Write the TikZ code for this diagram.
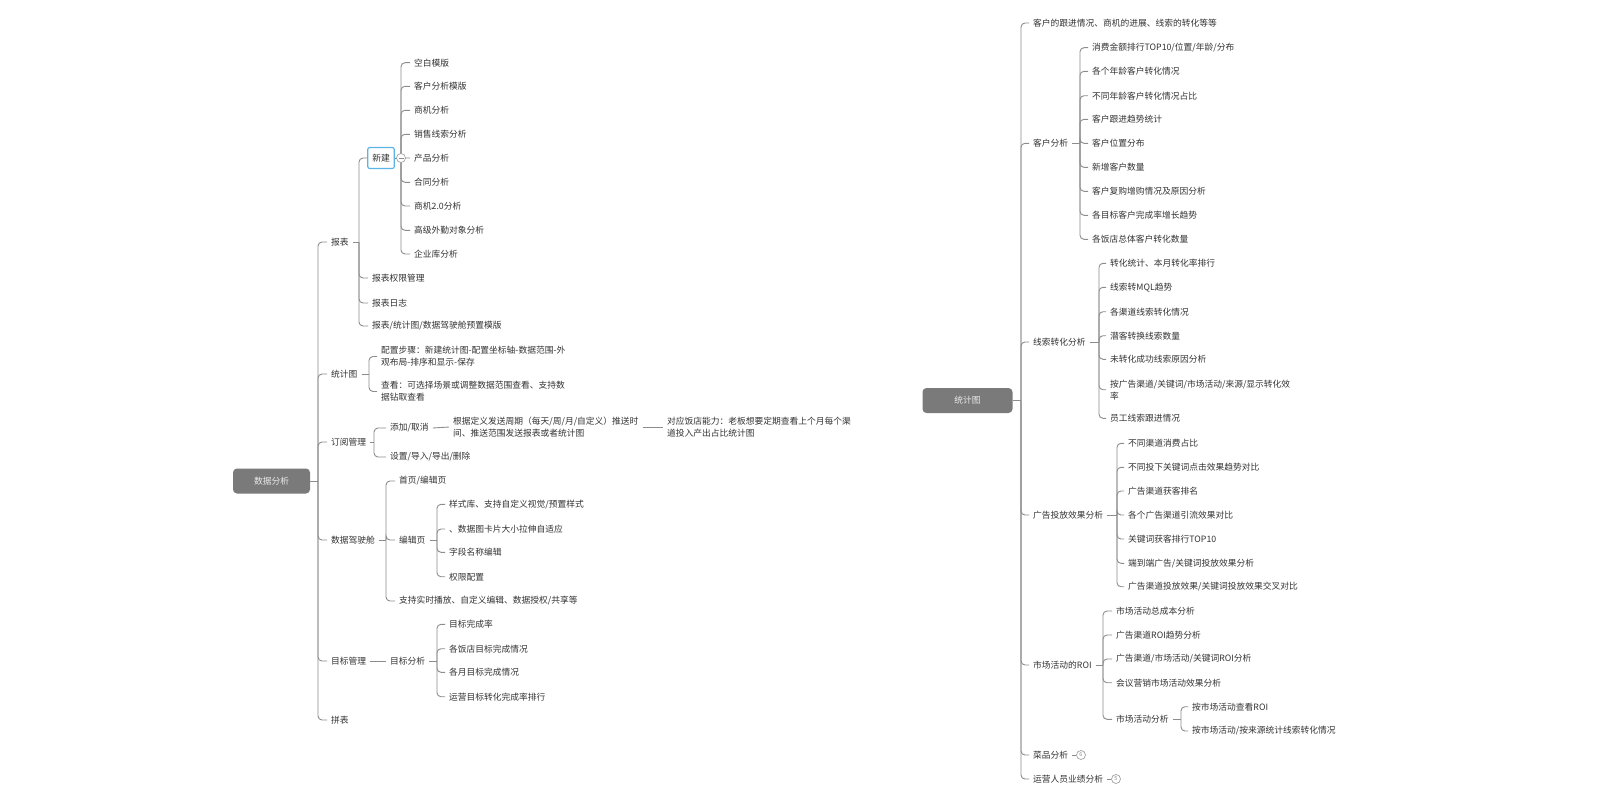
\documentclass[tikz,border=0pt]{standalone}
\usepackage{fontspec}
\setmainfont{Noto Sans CJK SC}
\usepackage{tikz}
\usetikzlibrary{positioning}
\definecolor{txtc}{RGB}{50,50,50}
\definecolor{linec}{RGB}{140,140,140}
\definecolor{rootc}{RGB}{122,122,122}
\definecolor{selc}{RGB}{90,180,230}

\begin{document}
\begin{tikzpicture}[x=1pt, y=-1pt,
  every node/.style={font=\fontsize{8.75}{12}\selectfont, text=txtc},
  item/.style={anchor=west, inner xsep=4pt, inner ysep=1pt, xshift=-4pt, align=left},
  root/.style={fill=rootc, rounded corners=4pt, text=white!92!black, minimum height=25pt},
  sel/.style={draw=selc, line width=1.2pt, rounded corners=2pt, fill=white, minimum height=21pt, inner xsep=4.5pt},
  conn/.style={draw=linec, line width=0.9pt, rounded corners=4pt},
  fold/.style={circle, draw=linec!80, fill=white, line width=0.7pt, minimum size=9pt, inner sep=0pt, font=\fontsize{5.5}{5.5}\selectfont, text=linec}]
  \useasboundingbox (0,0) rectangle (1600,800);
  % left map
  \node[root, minimum width=77pt] (sjfx) at (271.5,481) {数据分析};
  \coordinate (sjfxT) at (318,481);
  \draw[conn] (sjfx.east) -- (sjfxT);
  \foreach \n/\y/\t in {bb/242/报表, tjt/374/统计图, dygl/442/订阅管理, jsc/540/数据驾驶舱, mbgl/661/目标管理, pb/720/拼表} {
    \node[item] (\n) at (331,\y) {\t};
    \draw[conn] (sjfxT) |- (\n.west);
  }
  \coordinate (bbT) at (359,242);
  \draw[conn] (bb.east) -- (bbT);
  \node[sel] (xj) at (381,158) {新建};
  \draw[conn] (bbT) |- (xj.west);
  \foreach \n/\y/\t in {bbqx/278/报表权限管理, bbrz/303/报表日志, bbmb/326/{报表/统计图/数据驾驶舱预置模版}} {
    \node[item] (\n) at (372,\y) {\t};
    \draw[conn] (bbT) |- (\n.west);
  }
  \coordinate (xjT) at (401,158);
  \draw[conn] (xj.east) -- (xjT);
  \foreach \y/\t [count=\i] in {62.7/空白模版, 86.3/客户分析模版, 110.3/商机分析, 134.3/销售线索分析, 158/产品分析, 182.3/合同分析, 206/商机2.0分析, 230.3/高级外勤对象分析, 254/企业库分析} {
    \node[item] (xj\i) at (414,\y) {\t};
    \draw[conn] (xjT) |- (xj\i.west);
  }
  \node[fold] (xjF) at (xjT) {};
  \draw[linec, line width=0.7pt] ([xshift=-2.5pt]xjF.center) -- ([xshift=2.5pt]xjF.center);
  \coordinate (tjtT) at (369,374);
  \draw[conn] (tjt.east) -- (tjtT);
  \node[item] (pzbz) at (381,356.5) {配置步骤：新建统计图-配置坐标轴-数据范围-外\\观布局-排序和显示-保存};
  \node[item] (ck) at (381,391.5) {查看：可选择场景或调整数据范围查看、支持数\\据钻取查看};
  \foreach \n in {pzbz, ck} \draw[conn] (tjtT) |- (\n.west);
  \coordinate (dyglT) at (374,442);
  \draw[conn] (dygl.east) -- (dyglT);
  \node[item] (tjqx) at (390,428) {添加/取消};
  \node[item] (szdr) at (390,457) {设置/导入/导出/删除};
  \foreach \n in {tjqx, szdr} \draw[conn] (dyglT) |- (\n.west);
  \node[item] (gjdy) at (453,427) {根据定义发送周期（每天/周/月/自定义）推送时\\间、推送范围发送报表或者统计图};
  \node[item] (dyfd) at (667,427) {对应饭店能力：老板想要定期查看上个月每个渠\\道投入产出占比统计图};
  \draw[conn] (tjqx.east) -- (gjdy.west);
  \draw[conn] (gjdy.east) -- (dyfd.west);
  \coordinate (jscT) at (386,540);
  \draw[conn] (jsc.east) -- (jscT);
  \foreach \n/\y/\t in {sy/481/{首页/编辑页}, bjy/540/编辑页, zcss/601/{支持实时播放、自定义编辑、数据授权/共享等}} {
    \node[item] (\n) at (399,\y) {\t};
    \draw[conn] (jscT) |- (\n.west);
  }
  \coordinate (bjyT) at (437,540);
  \draw[conn] (bjy.east) -- (bjyT);
  \foreach \y/\t [count=\i] in {504.3/{样式库、支持自定义视觉/预置样式}, 529/、数据图卡片大小拉伸自适应, 552.3/字段名称编辑, 576.7/权限配置} {
    \node[item] (bjy\i) at (449,\y) {\t};
    \draw[conn] (bjyT) |- (bjy\i.west);
  }
  \node[item] (mbfx) at (390,661) {目标分析};
  \draw[conn] (mbgl.east) -- (mbfx.west);
  \coordinate (mbfxT) at (437,661);
  \draw[conn] (mbfx.east) -- (mbfxT);
  \foreach \y/\t [count=\i] in {624.3/目标完成率, 648.7/各饭店目标完成情况, 672.3/各月目标完成情况, 696.7/运营目标转化完成率排行} {
    \node[item] (mb\i) at (449,\y) {\t};
    \draw[conn] (mbfxT) |- (mb\i.west);
  }
  % right map
  \node[root, minimum width=90pt] (tjtR) at (967.5,400.5) {统计图};
  \coordinate (tjtRT) at (1021,400.5);
  \draw[conn] (tjtR.east) -- (tjtRT);
  \foreach \n/\y/\t in {gjqk/23/客户的跟进情况、商机的进展、线索的转化等等, khfx/143.3/客户分析, xszh/342/线索转化分析, ggtf/515/广告投放效果分析, scroi/665/市场活动的ROI, cpfx/755/菜品分析, yyry/779/运营人员业绩分析} {
    \node[item] (\n) at (1033,\y) {\t};
    \draw[conn] (tjtRT) |- (\n.west);
  }
  \coordinate (khfxT) at (1080,143.3);
  \draw[conn] (khfx.east) -- (khfxT);
  \foreach \y/\t [count=\i] in {47.7/{消费金额排行TOP10/位置/年龄/分布}, 71.3/各个年龄客户转化情况, 95.7/不同年龄客户转化情况占比, 119.3/客户跟进趋势统计, 143.3/客户位置分布, 167.3/新增客户数量, 191.3/客户复购增购情况及原因分析, 215.3/各目标客户完成率增长趋势, 239.3/各饭店总体客户转化数量} {
    \node[item] (kh\i) at (1092,\y) {\t};
    \draw[conn] (khfxT) |- (kh\i.west);
  }
  \coordinate (xszhT) at (1099,342);
  \draw[conn] (xszh.east) -- (xszhT);
  \foreach \y/\t [count=\i] in {263.3/转化统计、本月转化率排行, 287.3/线索转MQL趋势, 311.7/各渠道线索转化情况, 335.7/潜客转换线索数量, 359.3/未转化成功线索原因分析, 389.7/{按广告渠道/关键词/市场活动/来源/显示转化效\\率}, 418.3/员工线索跟进情况} {
    \node[item] (xs\i) at (1110,\y) {\t};
    \draw[conn] (xszhT) |- (xs\i.west);
  }
  \coordinate (ggtfT) at (1117,515);
  \draw[conn] (ggtf.east) -- (ggtfT);
  \foreach \y/\t [count=\i] in {443.3/不同渠道消费占比, 467.3/不同投下关键词点击效果趋势对比, 491/广告渠道获客排名, 515/各个广告渠道引流效果对比, 539/关键词获客排行TOP10, 563.3/{端到端广告/关键词投放效果分析}, 586.7/{广告渠道投放效果/关键词投放效果交叉对比}} {
    \node[item] (gg\i) at (1128,\y) {\t};
    \draw[conn] (ggtfT) |- (gg\i.west);
  }
  \coordinate (scroiT) at (1103,665);
  \draw[conn] (scroi.east) -- (scroiT);
  \foreach \n/\y/\t in {sc1/611/市场活动总成本分析, sc2/635/广告渠道ROI趋势分析, sc3/659/{广告渠道/市场活动/关键词ROI分析}, sc4/682.7/会议营销市场活动效果分析, scfx/719.3/市场活动分析} {
    \node[item] (\n) at (1116,\y) {\t};
    \draw[conn] (scroiT) |- (\n.west);
  }
  \coordinate (scfxT) at (1181,719.3);
  \draw[conn] (scfx.east) -- (scfxT);
  \foreach \n/\y/\t in {ck1/706.7/按市场活动查看ROI, ck2/731/{按市场活动/按来源统计线索转化情况}} {
    \node[item] (\n) at (1192,\y) {\t};
    \draw[conn] (scfxT) |- (\n.west);
  }
  \node[fold] (cpF) at (1081,755) {6};
  \node[fold] (yyF) at (1116,779) {5};
  \draw[conn] (cpfx.east) -- (cpF.west);
  \draw[conn] (yyry.east) -- (yyF.west);
\end{tikzpicture}
\end{document}
